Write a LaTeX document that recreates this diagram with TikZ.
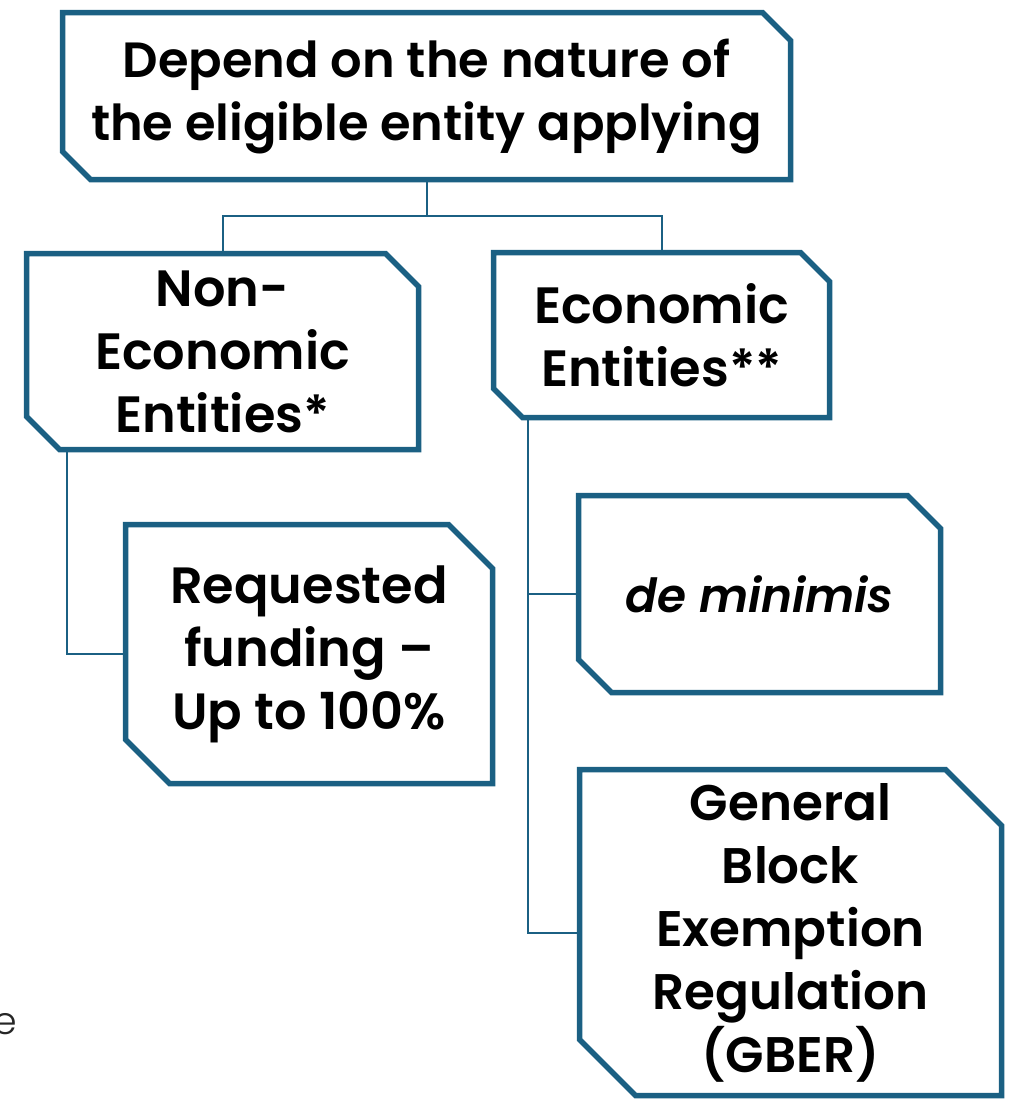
\documentclass[tikz,border=0pt]{standalone}
\usepackage{fontspec}
\setmainfont{Poppins}[BoldFont={Poppins SemiBold},BoldItalicFont={Poppins SemiBold Italic}]
\newfontfamily\lightfont{Poppins Light}
\definecolor{boxblue}{HTML}{1B6083}
\begin{document}
\begin{tikzpicture}[x=1pt,y=-1pt,
  boxarea/.style={inner sep=0pt,outer sep=0pt,align=center,font=\fontsize{51}{63}\selectfont\bfseries},
  boxline/.style={draw=boxblue,line width=5.5pt,line join=miter},
  link/.style={draw=boxblue,line width=2pt}]
\useasboundingbox (0,0) rectangle (1017,1101);
%boxes
\node[boxarea,minimum width=728pt,minimum height=167pt,font=\fontsize{49.5}{63}\selectfont\bfseries] (nature) at (426.5,96) {Depend on the nature of\\the eligible entity applying};
\node[boxarea,minimum width=392pt,minimum height=196pt] (noneco) at (222.5,351.5) {Non-\\Economic\\Entities*};
\node[boxarea,minimum width=336pt,minimum height=165pt] (eco) at (661.5,335) {Economic\\Entities**};
\node[boxarea,minimum width=367pt,minimum height=259pt] (funding) at (309,654) {Requested\\funding --\\Up to 100\%};
\node[boxarea,minimum width=362pt,minimum height=197pt,font=\fontsize{47}{63}\selectfont\bfseries] (minimis) at (759.5,594) {\itshape de minimis};
\node[boxarea,minimum width=422pt,minimum height=326pt,font=\fontsize{50}{63}\selectfont\bfseries] (gber) at (790.5,932.5) {General\\Block\\Exemption\\Regulation\\(GBER)};
%outlines
\foreach\n/\c in {nature/28,noneco/33,eco/29,funding/44,minimis/33,gber/56} {
  \draw[boxline] (\n.north west) -- ([xshift=-\c pt]\n.north east) -- ([yshift=-\c pt]\n.north east)
    -- (\n.south east) -- ([xshift=\c pt]\n.south west) -- ([yshift=\c pt]\n.south west) -- cycle;
}
%links
\coordinate (fork) at (426.5,216);
\draw[link] (nature.south) -- (fork) -| (noneco.north);
\draw[link] (fork) -| (eco.north);
\draw[link] ([xshift=40pt]noneco.south west) |- (funding.west);
\draw[link] ([xshift=34pt]eco.south west) |- (minimis.west);
\draw[link] ([xshift=34pt]eco.south west) |- (gber.west);
%cut off text
\node[anchor=base east,inner sep=0pt,font=\lightfont\fontsize{38}{46}\selectfont,text=black!85] (stray) at (17,1034) {e};
\end{tikzpicture}
\end{document}
